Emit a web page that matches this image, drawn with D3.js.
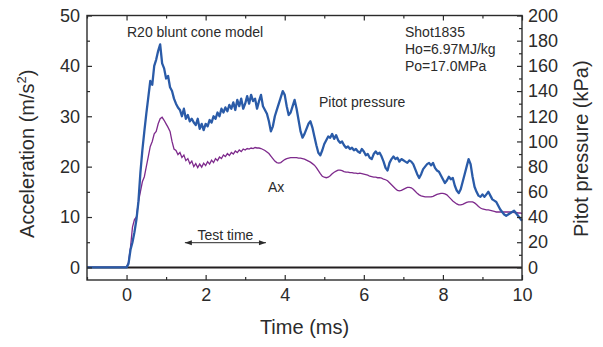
<!DOCTYPE html>
<html>
<head>
<meta charset="utf-8">
<script src="https://cdn.jsdelivr.net/npm/d3@7"></script>
<style>
  body { margin: 0; background: #fff; }
  svg { display: block; font-family: "Liberation Sans", Arial, sans-serif; }
</style>
</head>
<body>
<svg id="chart"></svg>
<script>
// samples start at t = 0 ms, one every 0.05 ms; signal is flat at 0 before that
const sampleStep = 0.05;
const preTriggerStart = -1;

// Pitot pressure (kPa), right axis
const pitotKpa = [
  0, 3, 14, 20, 28, 38, 52, 75, 93, 108,
  122, 135, 148, 145, 160, 165, 172, 177, 162, 158,
  150, 152, 143, 140, 134, 130, 127, 125, 120, 126,
  118, 121, 116, 118, 115, 113, 118, 110, 114, 109,
  114, 112, 117, 115, 120, 118, 123, 120, 126, 123,
  127, 124, 129, 126, 131, 125, 133, 128, 134, 126,
  130, 136, 130, 137, 132, 134, 126, 132, 137, 128,
  125, 122, 116, 108, 112, 120, 125, 130, 135, 140,
  137, 128, 121, 123, 128, 133, 126, 117, 108, 103,
  106, 110, 114, 116, 111, 104, 97, 91, 89, 93,
  98, 101, 104, 103, 106, 102, 105, 101, 99, 100,
  97, 95, 96, 94, 95, 93, 94, 92, 91, 94,
  92, 89, 90, 87, 86, 90, 92, 90, 91, 88,
  84, 79, 77, 83, 86, 88, 86, 87, 84, 86,
  85, 84, 83, 85, 84, 82, 78, 74, 71, 74,
  78, 80, 82, 83, 81, 83, 79, 77, 76, 73,
  70, 67, 69, 72, 70, 71, 65, 61, 59, 62,
  68, 74, 80, 86, 82, 72, 64, 60, 57, 56,
  58, 56, 58, 60, 57, 54, 53, 52, 49, 46,
  44, 42, 41, 42, 43, 44, 45, 43, 41, 39,
  37
];

// Acceleration Ax (m/s^2), left axis
const accelAx = [
  0, 1, 4, 8, 9.5, 10, 13, 15, 17, 18,
  20, 22, 24, 25, 26.5, 27, 28.5, 29.5, 29.8, 29.2,
  28.5, 27.8, 27, 25, 23.5, 23.2, 22.4, 22.8, 21.8, 22.3,
  21.2, 21.6, 20.6, 21.1, 20.0, 20.6, 19.8, 20.5, 19.9, 20.7,
  20.2, 21.0, 20.5, 21.3, 20.8, 21.6, 21.2, 21.9, 21.6, 22.3,
  22.0, 22.6, 22.2, 22.8, 22.5, 23.1, 22.8, 23.3, 23.0, 23.5,
  23.3, 23.6, 23.5, 23.7, 23.6, 23.8, 23.7, 23.7, 23.6, 23.4,
  23.2, 22.9, 22.6, 22.1, 21.6, 21.1, 20.8, 20.7, 20.8, 21.1,
  21.4, 21.6, 21.7, 21.8, 21.8, 21.8, 21.8, 21.7, 21.7, 21.6,
  21.5, 21.3, 21.1, 20.9, 20.6, 20.3, 19.8, 19.2, 18.6, 18.1,
  17.9, 17.8, 17.9, 18.2, 18.6, 18.9, 19.1, 19.3, 19.3, 19.2,
  19.0, 18.9, 18.9, 18.8, 18.8, 18.7, 18.7, 18.6, 18.7, 18.6,
  18.5, 18.4, 18.3, 18.1, 18.0, 17.9, 17.9, 17.8, 17.8, 17.7,
  17.5, 17.4, 17.2, 16.8, 16.4, 16.0, 15.6, 15.3, 15.2, 15.3,
  15.5, 15.7, 15.9, 15.9, 15.8, 15.5, 15.1, 14.7, 14.4, 14.2,
  14.1, 14.0, 14.0, 14.0, 14.0, 14.1, 14.3, 14.5, 14.6, 14.7,
  14.7, 14.6, 14.4, 14.0, 13.6, 13.2, 12.9, 12.6, 12.4, 12.4,
  12.5, 12.7, 12.9, 13.0, 13.0, 13.0, 12.8, 12.5, 12.1, 11.8,
  11.6, 11.5, 11.4, 11.4, 11.3, 11.2, 11.1, 11.0, 11.0, 11.0,
  11.0, 11.0, 11.0, 11.0, 11.0, 11.0, 10.9, 10.9, 10.8, 10.8,
  10.7
];

const xTicks = [0, 2, 4, 6, 8, 10];
const xMinorTicks = [-1, 1, 3, 5, 7, 9];
const leftTicks = [0, 10, 20, 30, 40, 50];
const leftMinorTicks = [5, 15, 25, 35, 45];
const rightTicks = [0, 20, 40, 60, 80, 100, 120, 140, 160, 180, 200];
const rightMinorTicks = [10, 30, 50, 70, 90, 110, 130, 150, 170, 190];

const infoLines = ["Shot1835", "Ho=6.97MJ/kg", "Po=17.0MPa"];
const testTimeRange = [1.5, 3.5];

class ShotChart {
  constructor(_config) {
    this.config = {
      parentElement: _config.parentElement,
      width: 435,
      height: 264.5,
      margin: { top: 15.5, right: 81, bottom: 67, left: 87 },
    };
    this.pitotColor = "#2a5ba8";
    this.axColor = "#7e2a8c";
    this.ink = "#2b2b2b";
    this.initVis();
  }

  initVis() {
    let vis = this;
    const containerWidth = vis.config.width + vis.config.margin.left + vis.config.margin.right;
    const containerHeight = vis.config.height + vis.config.margin.top + vis.config.margin.bottom;

    vis.xScale = d3.scaleLinear().domain([-1, 10]).range([0, vis.config.width]);
    vis.yScale = d3.scaleLinear().domain([-2.5, 50]).range([vis.config.height, 0]);
    vis.yRightScale = d3.scaleLinear().domain([-10, 200]).range([vis.config.height, 0]);

    vis.svg = d3.select(vis.config.parentElement)
        .attr('width', containerWidth)
        .attr('height', containerHeight);

    vis.chart = vis.svg.append('g')
        .attr('transform', `translate(${vis.config.margin.left},${vis.config.margin.top})`);

    vis.toPoints = (values) => [{ t: preTriggerStart, v: 0 }]
        .concat(values.map((v, i) => ({ t: i * sampleStep, v: v })));

    vis.renderVis();
  }

  drawAxis(axis, transform, labelled) {
    let vis = this;
    const g = vis.chart.append('g')
        .attr('transform', transform)
        .call(axis);
    g.select('.domain').remove();
    g.selectAll('.tick line').attr('stroke', vis.ink).attr('stroke-width', 1.2);
    g.selectAll('.tick text')
        .attr('fill', vis.ink)
        .style('font-size', '18px')
        .style('font-family', '"Liberation Sans", Arial, sans-serif');
    if (!labelled) g.selectAll('.tick text').remove();
    return g;
  }

  renderVis() {
    let vis = this;
    const w = vis.config.width, h = vis.config.height;

    // zero line
    vis.chart.append('line')
        .attr('x1', 0).attr('x2', w)
        .attr('y1', vis.yScale(0)).attr('y2', vis.yScale(0))
        .attr('stroke', '#231f20')
        .attr('stroke-width', 2);

    const line = (scale) => d3.line()
        .x(d => vis.xScale(d.t))
        .y(d => scale(d.v));

    vis.chart.append('path')
        .datum(vis.toPoints(accelAx))
        .attr('fill', 'none')
        .attr('stroke', vis.axColor)
        .attr('stroke-width', 1.3)
        .attr('d', line(vis.yScale));

    vis.chart.append('path')
        .datum(vis.toPoints(pitotKpa))
        .attr('fill', 'none')
        .attr('stroke', vis.pitotColor)
        .attr('stroke-width', 2.3)
        .attr('stroke-linejoin', 'round')
        .attr('d', line(vis.yRightScale));

    // axes, ticks point inward
    vis.drawAxis(d3.axisBottom(vis.xScale).tickValues(xTicks).tickSize(-5).tickSizeOuter(0).tickPadding(8), `translate(0,${h})`, true);
    vis.drawAxis(d3.axisBottom(vis.xScale).tickValues(xMinorTicks).tickSize(-3).tickSizeOuter(0).tickFormat(''), `translate(0,${h})`, false);
    vis.drawAxis(d3.axisTop(vis.xScale).tickValues(xTicks).tickSize(-5).tickSizeOuter(0), 'translate(0,0)', false);
    vis.drawAxis(d3.axisTop(vis.xScale).tickValues(xMinorTicks).tickSize(-3).tickSizeOuter(0), 'translate(0,0)', false);
    vis.drawAxis(d3.axisLeft(vis.yScale).tickValues(leftTicks).tickSize(-5).tickSizeOuter(0).tickPadding(7), 'translate(0,0)', true);
    vis.drawAxis(d3.axisLeft(vis.yScale).tickValues(leftMinorTicks).tickSize(-3).tickSizeOuter(0), 'translate(0,0)', false);
    vis.drawAxis(d3.axisRight(vis.yRightScale).tickValues(rightTicks).tickSize(-5).tickSizeOuter(0).tickPadding(6), `translate(${w},0)`, true);
    vis.drawAxis(d3.axisRight(vis.yRightScale).tickValues(rightMinorTicks).tickSize(-3).tickSizeOuter(0), `translate(${w},0)`, false);

    // frame
    vis.chart.append('rect')
        .attr('x', 0).attr('y', 0)
        .attr('width', w).attr('height', h)
        .attr('fill', 'none')
        .attr('stroke', vis.ink)
        .attr('stroke-width', 1.4);

    // axis titles
    vis.svg.append('text')
        .attr('x', vis.config.margin.left + vis.xScale(4.5))
        .attr('y', 334)
        .attr('text-anchor', 'middle')
        .attr('fill', vis.ink)
        .style('font-size', '20px')
        .text('Time (ms)');

    const yTitle = vis.svg.append('text')
        .attr('transform', `translate(34,${vis.config.margin.top + h / 2 + 6}) rotate(-90)`)
        .attr('text-anchor', 'middle')
        .attr('fill', vis.ink)
        .style('font-size', '20px');
    yTitle.append('tspan').text('Acceleration (m/s');
    yTitle.append('tspan').attr('dy', -8).style('font-size', '13px').text('2');
    yTitle.append('tspan').attr('dy', 8).text(')');

    vis.svg.append('text')
        .attr('transform', `translate(588,${vis.config.margin.top + h / 2 + 1}) rotate(-90)`)
        .attr('text-anchor', 'middle')
        .attr('fill', vis.ink)
        .style('font-size', '20px')
        .text('Pitot pressure (kPa)');

    // annotations
    const note = (x, y, txt) => vis.svg.append('text')
        .attr('x', x).attr('y', y)
        .attr('fill', vis.ink)
        .style('font-size', '14px')
        .text(txt);

    note(127, 37, 'R20 blunt cone model');
    infoLines.forEach((t, i) => note(405, 37.3 + i * 16.6, t));
    note(319, 107, 'Pitot pressure');
    note(268, 192, 'Ax');

    // test time marker
    const ml = vis.config.margin.left;
    const ay = 242.7;
    const x0 = ml + vis.xScale(testTimeRange[0]) - 1;
    const x1 = ml + vis.xScale(testTimeRange[1]) + 1;
    vis.svg.append('line')
        .attr('x1', x0).attr('x2', x1)
        .attr('y1', ay).attr('y2', ay)
        .attr('stroke', vis.ink).attr('stroke-width', 1);
    vis.svg.append('path')
        .attr('d', `M${x0},${ay} l7,-2.5 l0,5 Z M${x1},${ay} l-7,-2.5 l0,5 Z`)
        .attr('fill', vis.ink);
    vis.svg.append('text')
        .attr('x', (x0 + x1) / 2)
        .attr('y', 240)
        .attr('text-anchor', 'middle')
        .attr('fill', vis.ink)
        .style('font-size', '14px')
        .text('Test time');
  }
}

new ShotChart({ parentElement: '#chart' });
</script>
</body>
</html>
